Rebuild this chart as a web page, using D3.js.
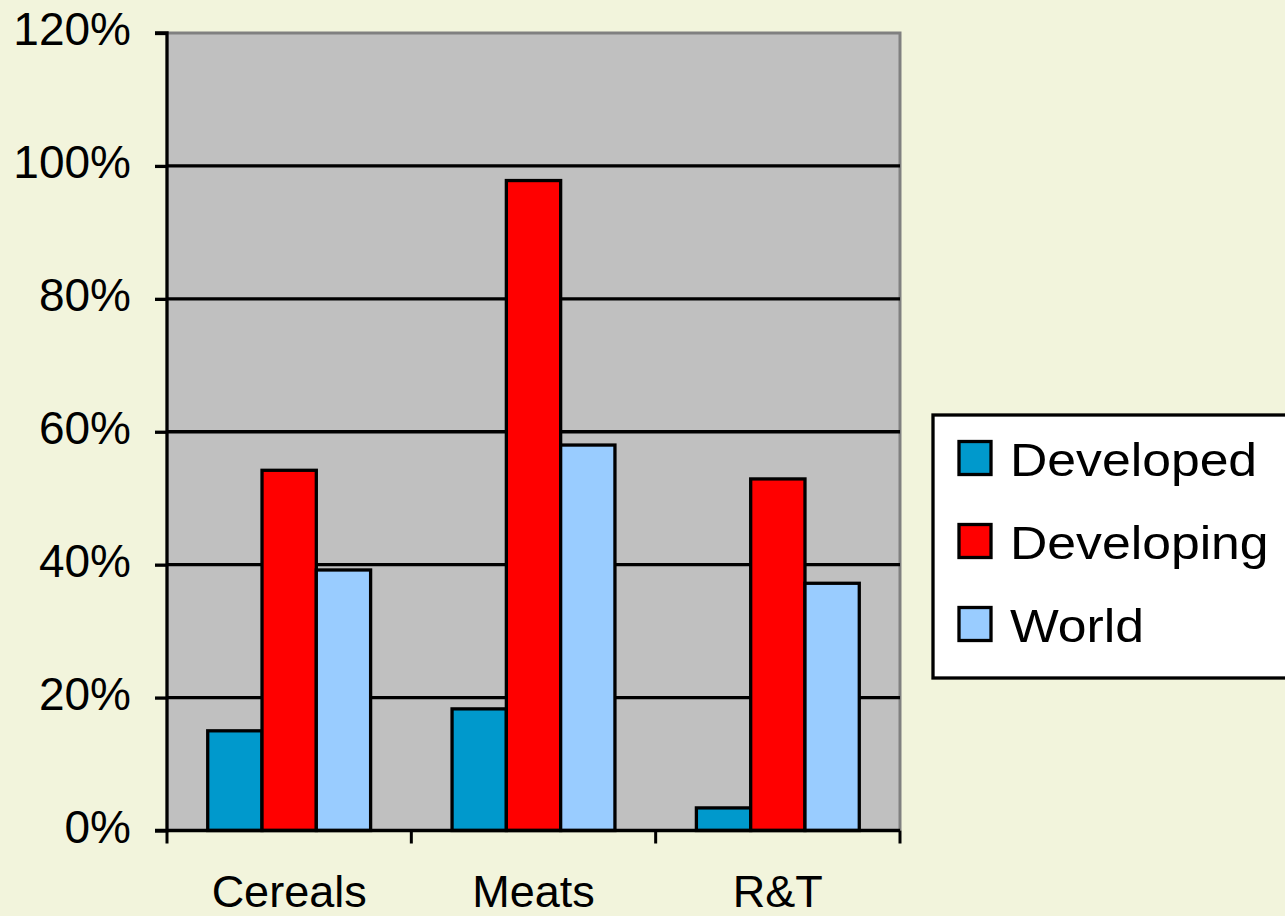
<!DOCTYPE html>
<html lang="en">
<head>
<meta charset="utf-8">
<script src="https://d3js.org/d3.v7.min.js"></script>
<title>Bar chart</title>
<style>
  html, body { margin: 0; padding: 0; background: #f2f4dc; }
  svg { display: block; font-family: "Liberation Sans", Arial, sans-serif; }
</style>
</head>
<body>
<div id="chart"></div>
<script>
// data (percent)
const categories = ["Cereals", "Meats", "R&T"];
const series = ["Developed", "Developing", "World"];
const developed = [15.0, 18.3, 3.4];
const developing = [54.2, 97.8, 52.9];
const world = [39.2, 58.0, 37.2];
const yTicks = [0, 20, 40, 60, 80, 100, 120];
const colors = ["#0099cc", "#ff0000", "#99ccff"];

const values = [developed, developing, world];

const W = 1285, H = 916;
const pLeft = 167, pRight = 900, pTop = 33, pBottom = 830.5;

const svg = d3.select("#chart").append("svg").attr("width", W).attr("height", H);

const x0 = d3.scaleBand().domain(categories).range([pLeft, pRight]).padding(0);
const x1 = d3.scaleBand().domain(series).range([0, x0.bandwidth()]).paddingInner(0).paddingOuter(0.75);
const y = d3.scaleLinear().domain([0, 120]).range([pBottom, pTop]);
const color = d3.scaleOrdinal().domain(series).range(colors);

// plot area
svg.append("rect")
   .attr("x", pLeft).attr("y", pTop)
   .attr("width", pRight - pLeft).attr("height", pBottom - pTop)
   .attr("fill", "#c0c0c0");
// gray frame top / right
svg.append("path")
   .attr("d", `M${pLeft},${pTop}H${pRight}V${pBottom}`)
   .attr("fill", "none").attr("stroke", "#808080").attr("stroke-width", 3);

// gridlines
svg.append("g").selectAll("line")
   .data(yTicks.filter(d => d > 0 && d < 120))
   .join("line")
   .attr("x1", pLeft).attr("x2", pRight)
   .attr("y1", d => y(d)).attr("y2", d => y(d))
   .attr("stroke", "#000").attr("stroke-width", 3.3);

// bars
const rows = categories.map((c, i) => ({cat: c, vals: series.map((s, j) => ({s: s, v: values[j][i]}))}));
svg.append("g").selectAll("g")
   .data(rows)
   .join("g")
   .attr("transform", d => `translate(${x0(d.cat)},0)`)
   .selectAll("rect")
   .data(d => d.vals)
   .join("rect")
   .attr("x", d => x1(d.s))
   .attr("y", d => y(d.v))
   .attr("width", x1.bandwidth())
   .attr("height", d => y(0) - y(d.v))
   .attr("fill", d => color(d.s))
   .attr("stroke", "#000").attr("stroke-width", 3.3);

// y axis
const yAxis = d3.axisLeft(y).tickValues(yTicks).tickSize(12).tickPadding(24).tickFormat(d => d + "%");
const ya = svg.append("g").attr("transform", `translate(${pLeft},0)`).call(yAxis);
ya.select(".domain").attr("stroke", "#000").attr("stroke-width", 3.3).attr("d", `M-12,${pTop}H0V${pBottom}H-12`);
ya.selectAll(".tick line").attr("stroke", "#000").attr("stroke-width", 3.3);
ya.selectAll(".tick text")
  .attr("font-size", 46).attr("fill", "#000")
  .attr("font-family", "'Liberation Sans', Arial, sans-serif")
  .attr("dy", "0.26em");

// x axis (ticks at band edges)
svg.append("line")
   .attr("x1", pLeft).attr("x2", pRight).attr("y1", pBottom).attr("y2", pBottom)
   .attr("stroke", "#000").attr("stroke-width", 3.3);
const edges = categories.map(c => x0(c)).concat([x0(categories[categories.length - 1]) + x0.bandwidth()]);
svg.append("g").selectAll("line")
   .data(edges)
   .join("line")
   .attr("x1", d => d).attr("x2", d => d)
   .attr("y1", pBottom).attr("y2", pBottom + 13)
   .attr("stroke", "#000").attr("stroke-width", 3);
svg.append("g").selectAll("text")
   .data(categories)
   .join("text")
   .attr("x", d => x0(d) + x0.bandwidth() / 2)
   .attr("y", 907)
   .attr("text-anchor", "middle")
   .attr("font-size", 45)
   .attr("fill", "#000")
   .text(d => d);

// legend
const legend = svg.append("g");
legend.append("rect")
   .attr("x", 933).attr("y", 415).attr("width", 400).attr("height", 263)
   .attr("fill", "#fff").attr("stroke", "#000").attr("stroke-width", 3.3);
const ly = d3.scalePoint().domain(series).range([458, 624]);
const items = legend.selectAll("g.item").data(series).join("g").attr("class", "item");
items.append("rect")
   .attr("x", 959).attr("y", d => ly(d) - 16.5)
   .attr("width", 32).attr("height", 33)
   .attr("fill", d => color(d))
   .attr("stroke", "#000").attr("stroke-width", 3.3);
items.append("text")
   .attr("transform", d => `translate(1010,${ly(d) + 18}) scale(1.1,1)`)
   .attr("font-size", 47)
   .attr("fill", "#000")
   .text(d => d);
</script>
</body>
</html>
